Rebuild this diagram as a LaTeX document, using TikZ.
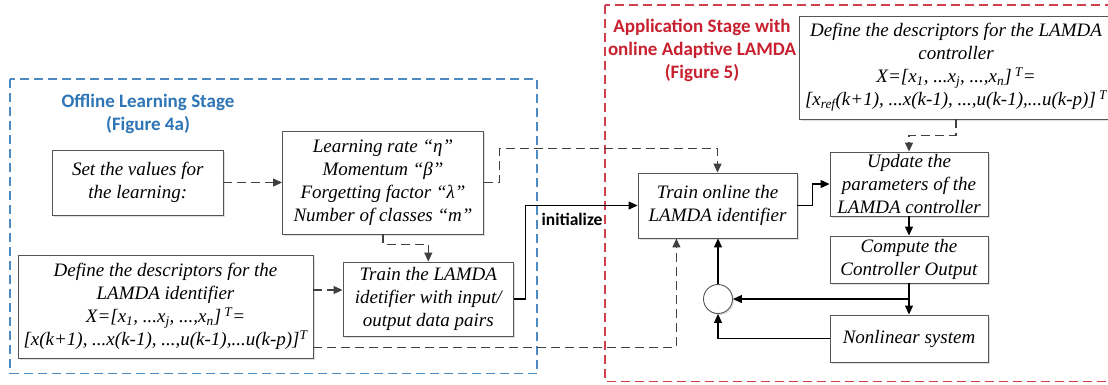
\documentclass[tikz,border=0pt]{standalone}
\usepackage{fontspec}
\setmainfont{Liberation Serif}
\newfontfamily\blockfont{Liberation Serif}
\newfontfamily\labelfont{Carlito}
\usetikzlibrary{arrows.meta,shadows,calc}

\definecolor{stageblue}{HTML}{2E75B6}
\definecolor{stagered}{HTML}{C8202E}
\definecolor{boxline}{HTML}{555555}

\tikzset{
  stagebox/.style={line width=1.2pt, dash pattern=on 9pt off 5pt},
  block/.style={draw=boxline, line width=0.9pt, fill=white, inner sep=0pt,
    align=center, font=\blockfont\fontsize{19}{23}\selectfont\itshape,
    drop shadow={shadow xshift=1.5pt,shadow yshift=-1.5pt,opacity=0.25}},
  flow/.style={line width=1.1pt, -{Triangle[length=9pt,width=8pt]}},
  dflow/.style={flow, draw=black!75, dash pattern=on 9pt off 5pt},
  stagetitle/.style={font=\labelfont\bfseries\fontsize{19}{23}\selectfont, align=center},
}

\begin{document}
\begin{tikzpicture}[x=1pt,y=-1pt]
\useasboundingbox (0,0) rectangle (1108,384);
\clip (0,0) rectangle (1108,384);

% stage frames
\draw[stagebox, draw=stageblue!85] (10,79) rectangle (537,373.5);
\draw[stagebox, draw=stagered!85] (605,5) rectangle (1120,381.5);

% stage titles
\node[stagetitle, text=stageblue] (offtitle) at (148,113.5) {Offline Learning Stage\\(Figure 4a)};
\node[stagetitle, text=stagered] (apptitle) at (702,50) {Application Stage with\\online Adaptive LAMDA\\(Figure 5)};

% offline blocks
\node[block, minimum width=170.5pt, minimum height=65pt] (setv) at (137.75,182.5)
  {Set the values for\\the learning:};
\node[block, minimum width=201pt, minimum height=103pt] (params) at (383,182.5)
  {Learning rate “η”\\Momentum “β”\\Forgetting factor “λ”\\Number of classes “m”};
\node[block, minimum width=295pt, minimum height=103pt] (defid) at (165.5,306.5)
  {Define the descriptors for the\\LAMDA identifier\\
   X={[}x\textsubscript{1}, ...x\textsubscript{j}, ...,x\textsubscript{n}]\,\textsuperscript{T}=\\
   {[}x(k+1), ...x(k-1), ...,u(k-1),...u(k-p)]\textsuperscript{T}};
\node[block, minimum width=170.6pt, minimum height=74pt] (trainid) at (428.3,299)
  {Train the LAMDA\\idetifier with input/\\output data pairs};

% online blocks
\node[block, minimum width=159pt, minimum height=65pt] (trainon) at (717.5,205.5)
  {Train online the\\LAMDA identifier};
\node[block, minimum width=314pt, minimum height=103pt] (ctrl) at (956,67.5)
  {Define the descriptors for the LAMDA\\controller\\
   X={[}x\textsubscript{1}, ...x\textsubscript{j}, ...,x\textsubscript{n}]\,\textsuperscript{T}=\\
   {[}x\textsubscript{ref}(k+1), ...x(k-1), ...,u(k-1),...u(k-p)]\,\textsuperscript{T}};
\node[block, minimum width=158pt, minimum height=64pt] (update) at (909,184)
  {Update the\\parameters of the\\LAMDA controller};
\node[block, minimum width=158pt, minimum height=47pt] (compute) at (909,259.5)
  {Compute the\\Controller Output};
\node[block, minimum width=158pt, minimum height=47pt] (nonlin) at (909,338.5)
  {Nonlinear system};
\node[block, circle, minimum size=29pt] (sum) at (718,299) {};

% offline connectors
\draw[dflow] (setv) -- (params);
\draw[dflow] (params.south) -- ++(0,10) -| (trainid.north);
\coordinate (dA) at ($(defid.east)+(0,-16.5)$);
\draw[dflow] (dA) -- (dA -| trainid.west);

% links between the stages
\draw[dflow] (params.east) -- ++(15.5,0) |- ($(trainon.north)+(0,-24)$) -- (trainon.north);
\draw[flow] (trainid.east) -- ++(11.4,0) |- (trainon.west);
\node[font=\labelfont\bfseries\fontsize{17.5}{20}\selectfont] (initlabel) at (572,219) {initialize};
\coordinate (dB) at ($(defid.south east)+(0,-11.3)$);
\draw[dflow] (dB) -| ($(trainon.south)+(-41.1,0)$);

% online loop
\draw[flow] (trainon.east) -- ++(14.7,0) |- (update.west);
\draw[dflow] (ctrl.south) -- ++(0,16) -| (update.north);
\draw[flow] (update) -- (compute);
\draw[flow] (compute) -- (nonlin);
\coordinate (branch) at (compute.south |- sum.east);
\draw[flow] (branch) -- (sum.east);
\draw[flow] (nonlin.west) -| (sum.south);
\draw[flow] (sum.north) -- (sum.north |- trainon.south);
\end{tikzpicture}
\end{document}
